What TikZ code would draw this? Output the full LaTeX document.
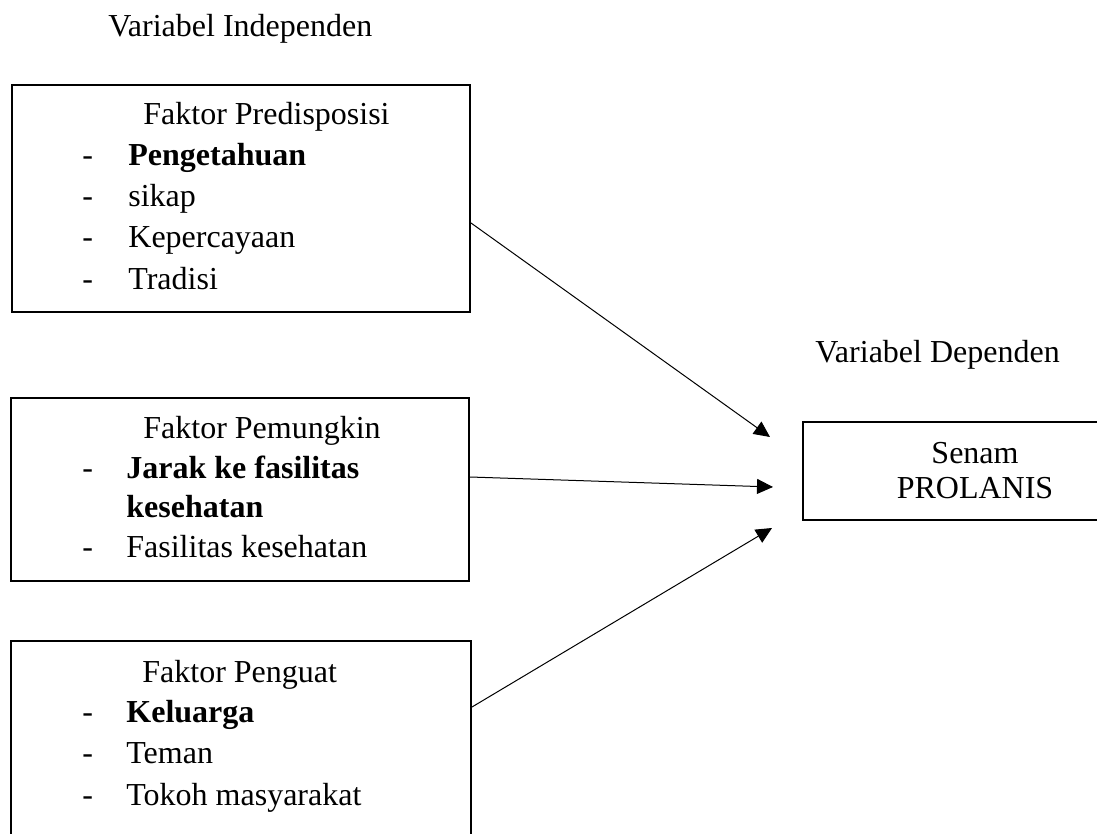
\documentclass[tikz,border=0pt]{standalone}
\usepackage{fontspec}
\setmainfont{Liberation Serif}
\usetikzlibrary{positioning,arrows.meta}

\begin{document}
\begin{tikzpicture}[x=0.5pt, y=-0.5pt,
  every node/.style={font=\fontsize{16}{20.5}\selectfont, inner sep=0pt},
  faktorbox/.style={draw=black, line width=1pt, anchor=north west, inner sep=0pt},
  itemtxt/.style={anchor=base west},
  panah/.style={-{Triangle[length=8pt, width=7.5pt]}, line width=0.5pt},
]
\useasboundingbox (0,0) rectangle (1097,834);

% Headings
\node[itemtxt] (indep) at (108,37) {Variabel Independen};
\node[itemtxt] (dep) at (815,362) {Variabel Dependen};

% Boxes
\node[faktorbox, minimum width=229pt, minimum height=113.5pt] (pred) at (11,84) {};
\node[faktorbox, minimum width=229pt, minimum height=91.5pt] (pemungkin) at (10,397) {};
\node[faktorbox, minimum width=230pt, minimum height=105pt] (penguat) at (10,640) {};
\node[faktorbox, minimum width=160pt, minimum height=49pt] (senam) at (802,421) {};

% Faktor Predisposisi
\node[itemtxt] (predT) at (143,125) {Faktor Predisposisi};
\foreach \i/\yy/\txt in {1/166/{\textbf{Pengetahuan}}, 2/207/{sikap},
    3/248/{Kepercayaan}, 4/290/{Tradisi}} {
  \node[itemtxt] (predD\i) at (82,\yy) {-};
  \node[itemtxt] (pred\i) at (128,\yy) {\txt};
}

% Faktor Pemungkin
\node[itemtxt] (pemT) at (143,438) {Faktor Pemungkin};
\node[itemtxt] (pemD1) at (82,478) {-};
\node[itemtxt] (pem1) at (126,478) {\textbf{Jarak ke fasilitas}};
\node[itemtxt] (pem1b) at (126,517) {\textbf{kesehatan}};
\node[itemtxt] (pemD2) at (82,557) {-};
\node[itemtxt] (pem2) at (126,557) {Fasilitas kesehatan};

% Faktor Penguat
\node[itemtxt] (pengT) at (142,682) {Faktor Penguat};
\foreach \i/\yy/\txt in {1/722/{\textbf{Keluarga}}, 2/763/{Teman}, 3/805/{Tokoh masyarakat}} {
  \node[itemtxt] (pengD\i) at (82,\yy) {-};
  \node[itemtxt] (peng\i) at (126,\yy) {\txt};
}

% Senam PROLANIS
\node[anchor=base] (senamA) at (975,463) {Senam};
\node[anchor=base] (senamB) at (975,498) {PROLANIS};

% Arrows
\coordinate (t1) at (770,437);
\coordinate (t2) at (773,487);
\coordinate (t3) at (772,528);
\draw[panah] (pred.east |- 0,223) -- (t1);
\draw[panah] (pemungkin.east |- 0,477) -- (t2);
\draw[panah] (penguat.east |- 0,707) -- (t3);
\end{tikzpicture}
\end{document}
